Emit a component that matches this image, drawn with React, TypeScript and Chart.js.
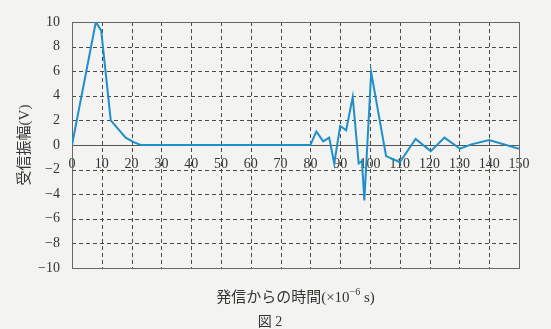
import React, { useEffect, useRef } from 'react';
import { Chart, registerables } from 'chart.js';

Chart.register(...registerables);

// time (×10^-6 s)
const times = [0, 8, 9.8, 13, 18, 20.5, 23, 80, 82, 84.3, 86.3, 88, 90, 92, 94.2, 96.2, 97.3, 98.1, 100.4, 105.4, 110, 115.3, 120.4, 125, 130.2, 134, 140, 150];
// received amplitude (V)
const volts = [0, 10, 9.3, 2.0, 0.6, 0.25, 0, 0, 1.1, 0.3, 0.6, -1.5, 1.55, 1.2, 3.9, -1.5, -1.3, -4.5, 5.9, -0.9, -1.4, 0.5, -0.5, 0.6, -0.3, 0.05, 0.4, -0.3];

const xMin = 0;
const xMax = 150;
const xStep = 10;
const yMin = -10;
const yMax = 10;
const yStep = 2;

const yAxisTitle = '受信振幅(V)';
const xAxisTitleMain = '発信からの時間(×10';
const xAxisTitleExp = '−6';
const xAxisTitleUnit = ' s)';
const figureLabel = '図 2';

const SERIF = '"Liberation Serif", "DejaVu Serif", "Noto Sans CJK JP", serif';
const TEXT = '#333333';

export default function App() {
  const ref = useRef<HTMLCanvasElement>(null);

  useEffect(() => {
    const paperPlugin = {
      id: 'paperGrid',
      beforeDatasetsDraw(chart: any) {
        const { ctx, chartArea } = chart;
        const xs = chart.scales.x;
        const ys = chart.scales.y;
        const { left, right, top, bottom } = chartArea;
        ctx.save();
        ctx.strokeStyle = '#4a4a4a';
        ctx.lineWidth = 1;
        ctx.setLineDash([4, 3]);
        xs.ticks.forEach((t: any) => {
          if (t.value <= xMin || t.value >= xMax) return;
          const px = Math.round(xs.getPixelForValue(t.value)) + 0.5;
          ctx.beginPath();
          ctx.moveTo(px, top);
          ctx.lineTo(px, bottom);
          ctx.stroke();
        });
        ys.ticks.forEach((t: any) => {
          if (t.value <= yMin || t.value >= yMax || t.value === 0) return;
          const py = Math.round(ys.getPixelForValue(t.value)) + 0.5;
          ctx.beginPath();
          ctx.moveTo(left, py);
          ctx.lineTo(right, py);
          ctx.stroke();
        });
        ctx.setLineDash([]);
        ctx.strokeStyle = '#666666';
        ctx.strokeRect(Math.round(left) + 0.5, Math.round(top) + 0.5, Math.round(right - left), Math.round(bottom - top));
        ctx.restore();
      },
      afterDraw(chart: any) {
        const { ctx, chartArea } = chart;
        const ys = chart.scales.y;
        ctx.save();
        ctx.fillStyle = TEXT;
        // y axis title
        ctx.font = '15px ' + SERIF;
        ctx.translate(25, ys.getPixelForValue(0));
        ctx.rotate(-Math.PI / 2);
        ctx.textAlign = 'center';
        ctx.textBaseline = 'middle';
        ctx.fillText(yAxisTitle, 0, 0);
        ctx.restore();

        // x axis title
        ctx.save();
        ctx.fillStyle = TEXT;
        ctx.textBaseline = 'alphabetic';
        ctx.textAlign = 'left';
        const bigFont = '15px ' + SERIF;
        const smallFont = '10px ' + SERIF;
        ctx.font = bigFont;
        const w1 = ctx.measureText(xAxisTitleMain).width;
        const w3 = ctx.measureText(xAxisTitleUnit).width;
        ctx.font = smallFont;
        const w2 = ctx.measureText(xAxisTitleExp).width;
        const total = w1 + w2 + w3;
        const cx = (chartArea.left + chartArea.right) / 2;
        let x = cx - total / 2;
        const base = 302;
        ctx.font = bigFont;
        ctx.fillText(xAxisTitleMain, x, base);
        x += w1;
        ctx.font = smallFont;
        ctx.fillText(xAxisTitleExp, x, base - 7);
        x += w2;
        ctx.font = bigFont;
        ctx.fillText(xAxisTitleUnit, x, base);

        // figure label
        ctx.textAlign = 'center';
        ctx.font = '14px ' + SERIF;
        ctx.fillText(figureLabel, 270, 326);
        ctx.restore();
      },
    };

    const chart = new Chart(ref.current as HTMLCanvasElement, {
      type: 'line',
      data: {
        datasets: [
          {
            data: times.map((t, i) => ({ x: t, y: volts[i] })),
            borderColor: '#1f8fca',
            borderWidth: 2,
            pointRadius: 0,
            tension: 0,
            fill: false,
          },
        ],
      },
      options: {
        animation: false,
        responsive: false,
        layout: { padding: { top: 22, right: 32, bottom: 61, left: 0 } },
        plugins: { legend: { display: false }, tooltip: { enabled: false } },
        scales: {
          x: {
            type: 'linear',
            min: xMin,
            max: xMax,
            position: { y: 0 } as any,
            ticks: {
              stepSize: xStep,
              autoSkip: false,
              maxRotation: 0,
              padding: 3,
              color: TEXT,
              font: { family: SERIF, size: 14 },
            },
            grid: { display: false },
            border: { display: true, color: '#555555', width: 1 },
          },
          y: {
            type: 'linear',
            min: yMin,
            max: yMax,
            ticks: {
              stepSize: yStep,
              padding: 4,
              color: TEXT,
              font: { family: SERIF, size: 14 },
              callback: (v: any) => (v < 0 ? '−' + Math.abs(v) : String(v)),
            },
            grid: { display: false },
            border: { display: false },
            afterFit: (s: any) => {
              s.width = 72;
            },
          },
        },
      },
      plugins: [paperPlugin],
    });
    return () => chart.destroy();
  }, []);

  return (
    <div style={{ position: 'fixed', left: 0, top: 0, width: 551, height: 329, background: '#f3f3f1' }}>
      <canvas ref={ref} width={551} height={329} style={{ display: 'block', width: 551, height: 329 }} />
    </div>
  );
}
